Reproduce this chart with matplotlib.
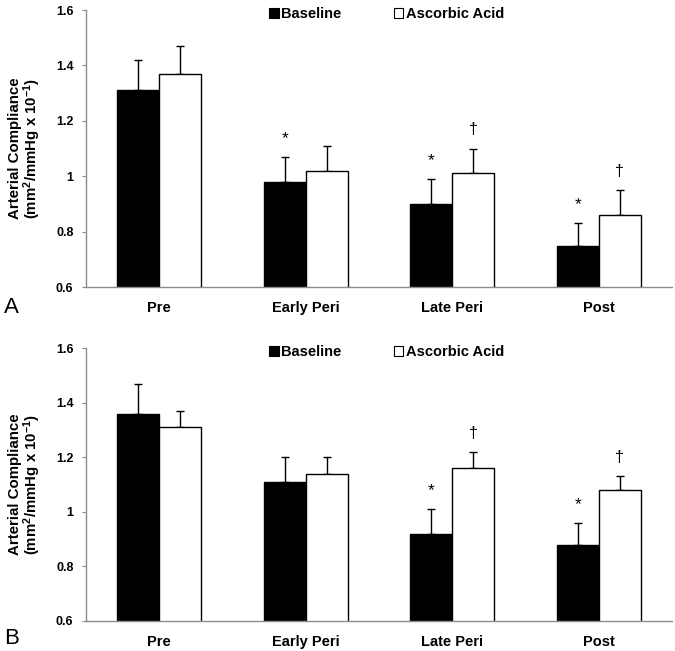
import numpy as np
import matplotlib.pyplot as plt
from matplotlib.patches import Patch

plt.rcParams['font.family'] = ['Liberation Sans', 'DejaVu Sans']
plt.rcParams['font.weight'] = 'bold'
plt.rcParams['mathtext.fontset'] = 'custom'
plt.rcParams['mathtext.rm'] = 'Liberation Sans:bold'
plt.rcParams['mathtext.default'] = 'rm'

categories = ['Pre', 'Early Peri', 'Late Peri', 'Post']
series_names = ['Baseline', 'Ascorbic Acid']

# panel A
a_baseline = [1.31, 0.98, 0.90, 0.75]
a_baseline_err = [0.11, 0.09, 0.09, 0.08]
a_ascorbic = [1.37, 1.02, 1.01, 0.86]
a_ascorbic_err = [0.10, 0.09, 0.09, 0.09]
a_baseline_sig = ['', '*', '*', '*']
a_ascorbic_sig = ['', '', '†', '†']

# panel B
b_baseline = [1.36, 1.11, 0.92, 0.88]
b_baseline_err = [0.11, 0.09, 0.09, 0.08]
b_ascorbic = [1.31, 1.14, 1.16, 1.08]
b_ascorbic_err = [0.06, 0.06, 0.06, 0.05]
b_baseline_sig = ['', '', '*', '*']
b_ascorbic_sig = ['', '', '†', '†']

yticks = [0.6, 0.8, 1.0, 1.2, 1.4, 1.6]
ytick_labels = ['0.6', '0.8', '1', '1.2', '1.4', '1.6']

fig = plt.figure(figsize=(6.75, 6.51), dpi=100)
ax_a = fig.add_axes([0.1274, 0.559, 0.8682, 0.4256])
ax_b = fig.add_axes([0.1274, 0.0461, 0.8682, 0.4189])

axis_grey = '#8c8c8c'
width = 0.287


def draw_panel(ax, base, base_err, asc, asc_err, base_sig, asc_sig):
    x = np.arange(len(categories)) + 0.5
    for vals, errs, sigs, color, offs in [
            (base, base_err, base_sig, 'black', -width / 2),
            (asc, asc_err, asc_sig, 'white', width / 2)]:
        ax.bar(x + offs, vals, width, bottom=0, color=color,
               edgecolor='black', linewidth=1.0, zorder=2)
        ax.errorbar(x + offs, vals, yerr=[np.zeros(len(vals)), errs],
                    fmt='none', ecolor='black', elinewidth=1.0,
                    capsize=3, capthick=1.0, zorder=1)
        for xi, v, e, s in zip(x + offs, vals, errs, sigs):
            if s == '*':
                ax.annotate(s, (xi, v + e), xytext=(0, 8),
                            textcoords='offset points', ha='center',
                            va='bottom', fontsize=12.5, fontweight='normal')
            elif s:
                ax.annotate(s, (xi, v + e), xytext=(0, 8),
                            textcoords='offset points', ha='center',
                            va='bottom', fontsize=11.5, fontweight='normal')

    ax.set_xlim(0, 4)
    ax.set_ylim(0.6, 1.6)
    ax.set_yticks(yticks)
    ax.set_yticklabels(ytick_labels, fontsize=9)
    ax.set_xticks(x)
    ax.set_xticklabels(categories, fontsize=10.5)
    ax.tick_params(axis='x', length=0, pad=10)
    ax.tick_params(axis='y', length=3, color=axis_grey, pad=6)
    for side in ['top', 'right']:
        ax.spines[side].set_visible(False)
    for side in ['left', 'bottom']:
        ax.spines[side].set_color(axis_grey)
        ax.spines[side].set_linewidth(1.0)
    ax.set_ylabel('Arterial Compliance\n(mm$^{2}$/mmHg x 10$^{-1}$)',
                  fontsize=10.8, fontweight='bold', labelpad=9,
                  linespacing=1.0)

    handles = [Patch(facecolor='black', edgecolor='black', linewidth=0.8),
               Patch(facecolor='white', edgecolor='black', linewidth=0.8)]
    ax.legend(handles, series_names, loc='center left',
              bbox_to_anchor=(0.313, 0.985), ncol=2, frameon=False,
              fontsize=10.5, handlelength=0.65, handleheight=0.65,
              handletextpad=0.15, columnspacing=3.6, borderpad=0,
              borderaxespad=0)


draw_panel(ax_a, a_baseline, a_baseline_err, a_ascorbic, a_ascorbic_err,
           a_baseline_sig, a_ascorbic_sig)
draw_panel(ax_b, b_baseline, b_baseline_err, b_ascorbic, b_ascorbic_err,
           b_baseline_sig, b_ascorbic_sig)

fig.text(0.006, 0.519, 'A', fontsize=16, fontweight='normal',
         ha='left', va='baseline')
fig.text(0.006, 0.011, 'B', fontsize=16, fontweight='normal',
         ha='left', va='baseline')

fig.savefig('out.png', dpi=100)
